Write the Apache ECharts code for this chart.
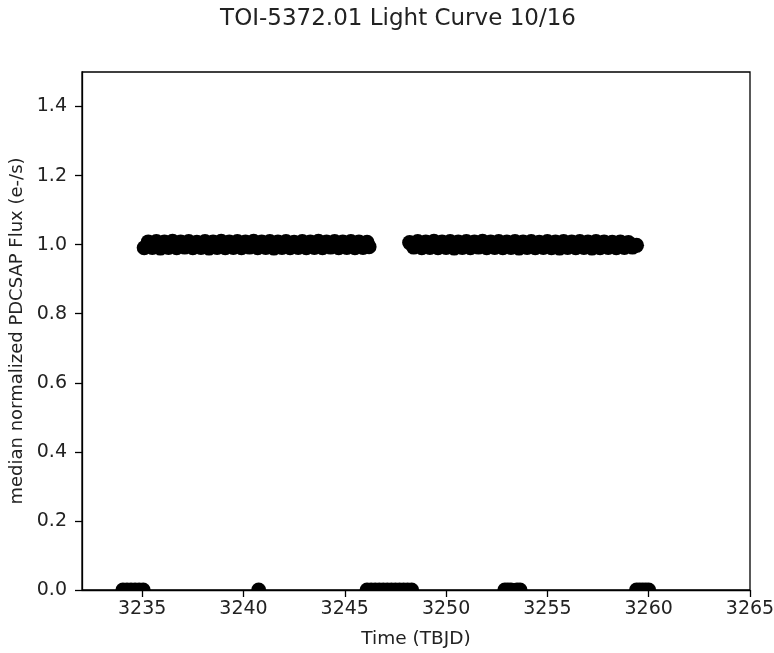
<!DOCTYPE html>
<html>
<head>
<meta charset="utf-8">
<script src="https://cdn.jsdelivr.net/npm/echarts@6/dist/echarts.min.js"></script>
<style>
  html, body { margin: 0; padding: 0; background: #fff; }
  #chart { width: 774px; height: 653px; }
</style>
</head>
<body>
<div id="chart"></div>
<script>
// first orbit segment, flux near 1
let timeA = [3235.1, 3235.3, 3235.5, 3235.7, 3235.9, 3236.1, 3236.3, 3236.5, 3236.7, 3236.9,
  3237.1, 3237.3, 3237.5, 3237.7, 3237.9, 3238.1, 3238.3, 3238.5, 3238.7, 3238.9,
  3239.1, 3239.3, 3239.5, 3239.7, 3239.9, 3240.1, 3240.3, 3240.5, 3240.7, 3240.9,
  3241.1, 3241.3, 3241.5, 3241.7, 3241.9, 3242.1, 3242.3, 3242.5, 3242.7, 3242.9,
  3243.1, 3243.3, 3243.5, 3243.7, 3243.9, 3244.1, 3244.3, 3244.5, 3244.7, 3244.9,
  3245.1, 3245.3, 3245.5, 3245.7, 3245.9, 3246.1, 3246.2]
let fluxA = [0.991, 1.008, 0.992, 1.009, 0.990, 1.008, 0.992, 1.010, 0.991, 1.008,
  0.993, 1.009, 0.991, 1.007, 0.992, 1.009, 0.990, 1.008, 0.992, 1.010,
  0.991, 1.008, 0.992, 1.009, 0.991, 1.008, 0.993, 1.010, 0.991, 1.008,
  0.992, 1.009, 0.990, 1.008, 0.992, 1.009, 0.991, 1.007, 0.992, 1.009,
  0.991, 1.008, 0.992, 1.010, 0.991, 1.008, 0.993, 1.009, 0.991, 1.008,
  0.992, 1.009, 0.991, 1.008, 0.992, 1.007, 0.994]

// second orbit segment
let timeB = [3248.2, 3248.4, 3248.6, 3248.8, 3249.0, 3249.2, 3249.4, 3249.6, 3249.8, 3250.0,
  3250.2, 3250.4, 3250.6, 3250.8, 3251.0, 3251.2, 3251.4, 3251.6, 3251.8, 3252.0,
  3252.2, 3252.4, 3252.6, 3252.8, 3253.0, 3253.2, 3253.4, 3253.6, 3253.8, 3254.0,
  3254.2, 3254.4, 3254.6, 3254.8, 3255.0, 3255.2, 3255.4, 3255.6, 3255.8, 3256.0,
  3256.2, 3256.4, 3256.6, 3256.8, 3257.0, 3257.2, 3257.4, 3257.6, 3257.8, 3258.0,
  3258.2, 3258.4, 3258.6, 3258.8, 3259.0, 3259.2, 3259.4]
let fluxB = [1.006, 0.993, 1.009, 0.991, 1.008, 0.992, 1.010, 0.991, 1.008, 0.992,
  1.009, 0.990, 1.008, 0.992, 1.009, 0.991, 1.008, 0.993, 1.010, 0.991,
  1.008, 0.992, 1.009, 0.991, 1.008, 0.992, 1.009, 0.990, 1.008, 0.992,
  1.009, 0.991, 1.007, 0.992, 1.009, 0.991, 1.008, 0.990, 1.009, 0.992,
  1.008, 0.991, 1.009, 0.992, 1.008, 0.990, 1.009, 0.991, 1.008, 0.992,
  1.007, 0.991, 1.008, 0.992, 1.006, 0.993, 0.998]

// flagged cadences sitting at zero
let timeZero = [3234.05, 3234.25, 3234.45, 3234.65, 3234.85, 3235.05,
  3240.75,
  3246.1, 3246.3, 3246.5, 3246.7, 3246.9, 3247.1, 3247.3, 3247.5, 3247.7, 3247.9, 3248.1, 3248.3,
  3252.9, 3253.05, 3253.2, 3253.5, 3253.65,
  3259.4, 3259.55, 3259.7, 3259.85, 3260.0]

let xTicks = [3235, 3240, 3245, 3250, 3255, 3260, 3265]
let yTicks = [0, 0.2, 0.4, 0.6, 0.8, 1.0, 1.2, 1.4]

let points = []
timeA.forEach((t, i) => points.push([t, fluxA[i]]))
timeB.forEach((t, i) => points.push([t, fluxB[i]]))
let zeros = timeZero.map(t => [t, 0])

let font = 'DejaVu Sans'
let tickStyle = { color: '#000', width: 1.3 }
let myChart = echarts.init(document.getElementById('chart'))
myChart.setOption({
  backgroundColor: '#fff',
  animation: false,
  title: {
    text: 'TOI-5372.01 Light Curve 10/16',
    left: 393,
    top: 3,
    textAlign: 'center',
    textStyle: { fontFamily: font, fontSize: 23, fontWeight: 'normal', color: '#222' }
  },
  grid: {
    left: 82, right: 24, top: 72, bottom: 63,
    outerBoundsMode: 'none',
    containLabel: false,
    show: true, borderColor: '#000', borderWidth: 1.3
  },
  xAxis: {
    type: 'value',
    min: 3232.03,
    max: 3265,
    name: 'Time (TBJD)',
    nameLocation: 'middle',
    nameGap: 40,
    nameTextStyle: { fontFamily: font, fontSize: 18.5, color: '#222' },
    splitLine: { show: false },
    axisLine: { onZero: false, lineStyle: tickStyle },
    axisTick: { customValues: xTicks, length: 7, lineStyle: tickStyle },
    axisLabel: {
      customValues: xTicks, margin: 10,
      fontFamily: font, fontSize: 19, color: '#222',
      formatter: v => String(v)
    }
  },
  yAxis: {
    type: 'value',
    min: 0,
    max: 1.5,
    name: 'median normalized PDCSAP Flux (e-/s)',
    nameLocation: 'middle',
    nameGap: 55,
    nameTextStyle: { fontFamily: font, fontSize: 18, color: '#222' },
    splitLine: { show: false },
    axisLine: { show: true, lineStyle: tickStyle },
    axisTick: { show: true, customValues: yTicks, length: 7, lineStyle: tickStyle },
    axisLabel: {
      customValues: yTicks, margin: 15,
      fontFamily: font, fontSize: 19, color: '#222',
      formatter: v => v.toFixed(1)
    }
  },
  series: [{
    type: 'scatter',
    data: points,
    symbol: 'circle',
    symbolSize: 15,
    itemStyle: { color: '#000', opacity: 1 }
  }, {
    // markers at y=0 are cut by the axis, only the top half shows
    type: 'scatter',
    data: zeros,
    symbol: 'path://M0,10 A10,10 0 0 1 20,10 Z',
    symbolSize: [15, 7.5],
    symbolOffset: [0, -3.75],
    itemStyle: { color: '#000', opacity: 1 }
  }]
})
</script>
</body>
</html>
